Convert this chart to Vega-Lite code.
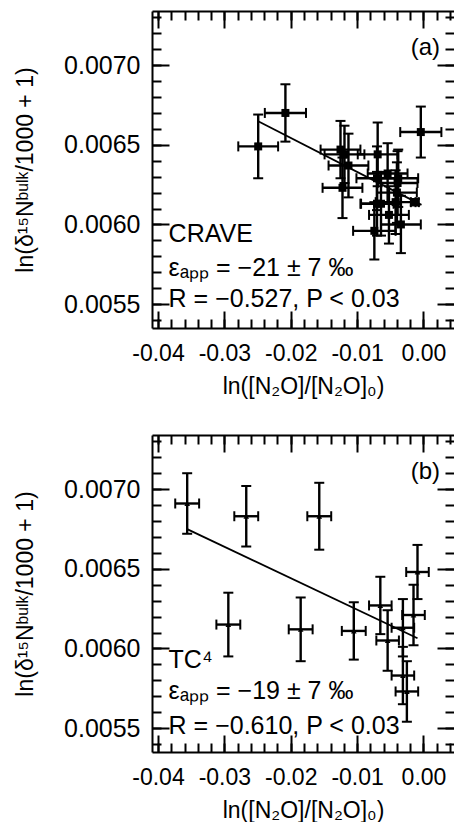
{
  "$schema": "https://vega.github.io/schema/vega-lite/v6.json",
  "padding": {"left": 14, "top": 10, "right": 0, "bottom": 0},
  "background": "white",
  "spacing": 36,
  "config": {
    "font": "Liberation Sans",
    "view": {"stroke": null},
    "axis": {"grid": false, "domainColor": "black", "domainWidth": 2, "tickColor": "black", "tickWidth": 2, "labelColor": "black", "titleColor": "black", "labelFontSize": 23, "titleFontSize": 23, "titleFontWeight": "normal", "labelOverlap": false, "labelFlush": false}
  },
  "datasets": {
    "a": [
      {"x": -0.0249, "y": 0.00649, "xlo": -0.0279, "xhi": -0.0219, "ylo": 0.00629, "yhi": 0.00669},
      {"x": -0.0208, "y": 0.00670, "xlo": -0.0239, "xhi": -0.0177, "ylo": 0.00652, "yhi": 0.00688},
      {"x": -0.0125, "y": 0.00647, "xlo": -0.0155, "xhi": -0.0095, "ylo": 0.00629, "yhi": 0.00665},
      {"x": -0.0119, "y": 0.00644, "xlo": -0.0149, "xhi": -0.0089, "ylo": 0.00626, "yhi": 0.00662},
      {"x": -0.0113, "y": 0.00637, "xlo": -0.0143, "xhi": -0.0083, "ylo": 0.00617, "yhi": 0.00657},
      {"x": -0.0122, "y": 0.00623, "xlo": -0.0152, "xhi": -0.0092, "ylo": 0.00604, "yhi": 0.00642},
      {"x": -0.0069, "y": 0.00644, "xlo": -0.0099, "xhi": -0.0039, "ylo": 0.00624, "yhi": 0.00664},
      {"x": -0.0070, "y": 0.00629, "xlo": -0.0101, "xhi": -0.0039, "ylo": 0.00609, "yhi": 0.00649},
      {"x": -0.0054, "y": 0.00632, "xlo": -0.0084, "xhi": -0.0024, "ylo": 0.00613, "yhi": 0.00651},
      {"x": -0.0038, "y": 0.00629, "xlo": -0.0068, "xhi": -0.0008, "ylo": 0.00611, "yhi": 0.00647},
      {"x": -0.0039, "y": 0.00626, "xlo": -0.0069, "xhi": -0.0009, "ylo": 0.00606, "yhi": 0.00646},
      {"x": -0.0070, "y": 0.00613, "xlo": -0.0095, "xhi": -0.0045, "ylo": 0.00593, "yhi": 0.00633},
      {"x": -0.0064, "y": 0.00613, "xlo": -0.0094, "xhi": -0.0034, "ylo": 0.00593, "yhi": 0.00633},
      {"x": -0.0042, "y": 0.00614, "xlo": -0.0072, "xhi": -0.0012, "ylo": 0.00594, "yhi": 0.00634},
      {"x": -0.0052, "y": 0.00606, "xlo": -0.0082, "xhi": -0.0022, "ylo": 0.00588, "yhi": 0.00624},
      {"x": -0.0034, "y": 0.00600, "xlo": -0.0064, "xhi": -0.0004, "ylo": 0.00582, "yhi": 0.00618},
      {"x": -0.0074, "y": 0.00596, "xlo": -0.0106, "xhi": -0.0042, "ylo": 0.00578, "yhi": 0.00614},
      {"x": -0.0004, "y": 0.00658, "xlo": -0.0035, "xhi": 0.0027, "ylo": 0.00642, "yhi": 0.00674},
      {"x": -0.0040, "y": 0.00620, "xlo": -0.0070, "xhi": -0.0010, "ylo": 0.00601, "yhi": 0.00639},
      {"x": -0.0013, "y": 0.00614, "xlo": -0.0019, "xhi": -0.0007, "ylo": 0.00612, "yhi": 0.00616}
    ],
    "b": [
      {"x": -0.0356, "y": 0.00691, "xlo": -0.0374, "xhi": -0.0338, "ylo": 0.00672, "yhi": 0.00710},
      {"x": -0.0267, "y": 0.00683, "xlo": -0.0285, "xhi": -0.0249, "ylo": 0.00664, "yhi": 0.00702},
      {"x": -0.0157, "y": 0.00683, "xlo": -0.0175, "xhi": -0.0139, "ylo": 0.00662, "yhi": 0.00704},
      {"x": -0.0294, "y": 0.00615, "xlo": -0.0312, "xhi": -0.0276, "ylo": 0.00595, "yhi": 0.00635},
      {"x": -0.0185, "y": 0.00612, "xlo": -0.0203, "xhi": -0.0167, "ylo": 0.00592, "yhi": 0.00632},
      {"x": -0.0105, "y": 0.00611, "xlo": -0.0123, "xhi": -0.0087, "ylo": 0.00593, "yhi": 0.00629},
      {"x": -0.0065, "y": 0.00627, "xlo": -0.0082, "xhi": -0.0048, "ylo": 0.00609, "yhi": 0.00645},
      {"x": -0.0054, "y": 0.00605, "xlo": -0.0071, "xhi": -0.0037, "ylo": 0.00586, "yhi": 0.00624},
      {"x": -0.0031, "y": 0.00613, "xlo": -0.0048, "xhi": -0.0014, "ylo": 0.00595, "yhi": 0.00631},
      {"x": -0.0015, "y": 0.00621, "xlo": -0.0032, "xhi": 0.0002, "ylo": 0.00602, "yhi": 0.00640},
      {"x": -0.0009, "y": 0.00648, "xlo": -0.0026, "xhi": 0.0008, "ylo": 0.00631, "yhi": 0.00665},
      {"x": -0.0031, "y": 0.00583, "xlo": -0.0048, "xhi": -0.0014, "ylo": 0.00565, "yhi": 0.00601},
      {"x": -0.0025, "y": 0.00573, "xlo": -0.0042, "xhi": -0.0008, "ylo": 0.00554, "yhi": 0.00592}
    ],
    "fitA": [{"x": -0.0249, "y": 0.006648}, {"x": -0.0003, "y": 0.006123}],
    "fitB": [{"x": -0.0356, "y": 0.006749}, {"x": -0.0009, "y": 0.006064}]
  },
  "vconcat": [
    {
      "width": 302, "height": 317,
      "data": {"name": "a"},
      "resolve": {"axis": {"x": "independent", "y": "independent"}},
      "layer": [
        {"mark": {"type": "rule", "color": "black", "strokeWidth": 2.4},
         "encoding": {
           "x": {"field": "xlo", "type": "quantitative", "scale": {"domain": [-0.0409, 0.0046], "nice": false, "zero": false},
                 "axis": {"orient": "bottom", "values": [-0.04, -0.03, -0.02, -0.01, 0], "tickSize": 0, "title": "ln([N₂O]/[N₂O]₀)", "labelPadding": 14, "titlePadding": 10,
                          "labelExpr": "replace(format(datum.value, '.2f'), '\u2212', '-')"}},
           "x2": {"field": "xhi"},
           "y": {"field": "y", "type": "quantitative", "scale": {"domain": [0.00535, 0.00734], "nice": false, "zero": false},
                 "axis": {"orient": "left", "values": [0.0055, 0.006, 0.0065, 0.007], "tickSize": 0, "format": ".4f", "title": "ln(δ¹⁵Nᵇᵘˡᵏ/1000 + 1)", "labelPadding": 12, "titlePadding": 26, "labelFontSize": 25}}
         }},
        {"mark": {"type": "rule", "color": "black", "strokeWidth": 2.4},
         "encoding": {
           "x": {"field": "x", "type": "quantitative", "scale": {"domain": [-0.0409, 0.0046], "nice": false, "zero": false},
                 "axis": {"orient": "bottom", "values": [-0.04, -0.03, -0.02, -0.01, 0], "tickSize": -17, "labels": false, "domain": false, "title": null}},
           "y": {"field": "ylo", "type": "quantitative", "scale": {"domain": [0.00535, 0.00734], "nice": false, "zero": false},
                 "axis": {"orient": "left", "values": [0.0055, 0.006, 0.0065, 0.007], "tickSize": -17, "labels": false, "domain": false, "title": null}},
           "y2": {"field": "yhi"}
         }},
        {"mark": {"type": "tick", "orient": "vertical", "color": "black", "size": 10, "thickness": 2, "opacity": 1},
         "encoding": {
           "x": {"field": "xlo", "type": "quantitative", "scale": {"domain": [-0.0409, 0.0046], "nice": false, "zero": false},
                 "axis": {"orient": "bottom", "values": [-0.04,-0.038,-0.036,-0.034,-0.032,-0.03,-0.028,-0.026,-0.024,-0.022,-0.02,-0.018,-0.016,-0.014,-0.012,-0.01,-0.008,-0.006,-0.004,-0.002,0,0.002,0.004], "tickSize": -9, "labels": false, "domain": false, "title": null}},
           "y": {"field": "y", "type": "quantitative", "scale": {"domain": [0.00535, 0.00734], "nice": false, "zero": false},
                 "axis": {"orient": "left", "values": [0.0054,0.0055,0.0056,0.0057,0.0058,0.0059,0.006,0.0061,0.0062,0.0063,0.0064,0.0065,0.0066,0.0067,0.0068,0.0069,0.007,0.0071,0.0072,0.0073], "tickSize": -9, "labels": false, "domain": false, "title": null}}
         }},
        {"mark": {"type": "tick", "orient": "vertical", "color": "black", "size": 10, "thickness": 2, "opacity": 1},
         "encoding": {
           "x": {"field": "xhi", "type": "quantitative", "scale": {"domain": [-0.0409, 0.0046], "nice": false, "zero": false},
                 "axis": {"orient": "top", "values": [-0.04, -0.03, -0.02, -0.01, 0], "tickSize": -17, "labels": false, "domain": true, "title": null}},
           "y": {"field": "y", "type": "quantitative", "scale": {"domain": [0.00535, 0.00734], "nice": false, "zero": false},
                 "axis": {"orient": "right", "values": [0.0055, 0.006, 0.0065, 0.007], "tickSize": -17, "labels": false, "domain": false, "title": null}}
         }},
        {"mark": {"type": "tick", "orient": "horizontal", "color": "black", "size": 10, "thickness": 2, "opacity": 1},
         "encoding": {
           "x": {"field": "x", "type": "quantitative", "scale": {"domain": [-0.0409, 0.0046], "nice": false, "zero": false},
                 "axis": {"orient": "top", "values": [-0.04,-0.038,-0.036,-0.034,-0.032,-0.03,-0.028,-0.026,-0.024,-0.022,-0.02,-0.018,-0.016,-0.014,-0.012,-0.01,-0.008,-0.006,-0.004,-0.002,0,0.002,0.004], "tickSize": -9, "labels": false, "domain": false, "title": null}},
           "y": {"field": "ylo", "type": "quantitative", "scale": {"domain": [0.00535, 0.00734], "nice": false, "zero": false},
                 "axis": {"orient": "right", "values": [0.0054,0.0055,0.0056,0.0057,0.0058,0.0059,0.006,0.0061,0.0062,0.0063,0.0064,0.0065,0.0066,0.0067,0.0068,0.0069,0.007,0.0071,0.0072,0.0073], "tickSize": -9, "labels": false, "domain": false, "title": null}}
         }},
        {"mark": {"type": "tick", "orient": "horizontal", "color": "black", "size": 10, "thickness": 2, "opacity": 1},
         "encoding": {"x": {"field": "x", "type": "quantitative", "axis": null}, "y": {"field": "yhi", "type": "quantitative", "axis": null}}},
        {"mark": {"type": "point", "shape": "square", "filled": true, "color": "black", "size": 64, "opacity": 1},
         "encoding": {"x": {"field": "x", "type": "quantitative", "axis": null}, "y": {"field": "y", "type": "quantitative", "axis": null}}},
        {"data": {"name": "fitA"}, "mark": {"type": "line", "color": "black", "strokeWidth": 1.8},
         "encoding": {"x": {"field": "x", "type": "quantitative", "axis": null}, "y": {"field": "y", "type": "quantitative", "axis": null}}},
        {"data": {"values": [{}]}, "mark": {"type": "text", "align": "left", "baseline": "alphabetic", "fontSize": 25, "color": "black"},
         "encoding": {"x": {"datum": -0.0384, "type": "quantitative", "axis": null}, "y": {"datum": 0.005887, "type": "quantitative", "axis": null}, "text": {"value": "CRAVE"}}},
        {"data": {"values": [{}]}, "mark": {"type": "text", "align": "left", "baseline": "alphabetic", "fontSize": 25, "color": "black"},
         "encoding": {"x": {"datum": -0.0384, "type": "quantitative", "axis": null}, "y": {"datum": 0.005677, "type": "quantitative", "axis": null}, "text": {"value": "εₐₚₚ = −21 ± 7 ‰"}}},
        {"data": {"values": [{}]}, "mark": {"type": "text", "align": "left", "baseline": "alphabetic", "fontSize": 25, "color": "black"},
         "encoding": {"x": {"datum": -0.0384, "type": "quantitative", "axis": null}, "y": {"datum": 0.005482, "type": "quantitative", "axis": null}, "text": {"value": "R = −0.527, P < 0.03"}}},
        {"data": {"values": [{}]}, "mark": {"type": "text", "align": "right", "baseline": "alphabetic", "fontSize": 24, "color": "black"},
         "encoding": {"x": {"datum": 0.0025, "type": "quantitative", "axis": null}, "y": {"datum": 0.007066, "type": "quantitative", "axis": null}, "text": {"value": "(a)"}}}
      ]
    },
    {
      "width": 302, "height": 317,
      "data": {"name": "b"},
      "resolve": {"axis": {"x": "independent", "y": "independent"}},
      "layer": [
        {"mark": {"type": "rule", "color": "black", "strokeWidth": 2.4},
         "encoding": {
           "x": {"field": "xlo", "type": "quantitative", "scale": {"domain": [-0.0409, 0.0046], "nice": false, "zero": false},
                 "axis": {"orient": "bottom", "values": [-0.04, -0.03, -0.02, -0.01, 0], "tickSize": 0, "title": "ln([N₂O]/[N₂O]₀)", "labelPadding": 14, "titlePadding": 10,
                          "labelExpr": "replace(format(datum.value, '.2f'), '\u2212', '-')"}},
           "x2": {"field": "xhi"},
           "y": {"field": "y", "type": "quantitative", "scale": {"domain": [0.00535, 0.00734], "nice": false, "zero": false},
                 "axis": {"orient": "left", "values": [0.0055, 0.006, 0.0065, 0.007], "tickSize": 0, "format": ".4f", "title": "ln(δ¹⁵Nᵇᵘˡᵏ/1000 + 1)", "labelPadding": 12, "titlePadding": 26, "labelFontSize": 25}}
         }},
        {"mark": {"type": "rule", "color": "black", "strokeWidth": 2.4},
         "encoding": {
           "x": {"field": "x", "type": "quantitative", "scale": {"domain": [-0.0409, 0.0046], "nice": false, "zero": false},
                 "axis": {"orient": "bottom", "values": [-0.04, -0.03, -0.02, -0.01, 0], "tickSize": -17, "labels": false, "domain": false, "title": null}},
           "y": {"field": "ylo", "type": "quantitative", "scale": {"domain": [0.00535, 0.00734], "nice": false, "zero": false},
                 "axis": {"orient": "left", "values": [0.0055, 0.006, 0.0065, 0.007], "tickSize": -17, "labels": false, "domain": false, "title": null}},
           "y2": {"field": "yhi"}
         }},
        {"mark": {"type": "tick", "orient": "vertical", "color": "black", "size": 10, "thickness": 2, "opacity": 1},
         "encoding": {
           "x": {"field": "xlo", "type": "quantitative", "scale": {"domain": [-0.0409, 0.0046], "nice": false, "zero": false},
                 "axis": {"orient": "bottom", "values": [-0.04,-0.038,-0.036,-0.034,-0.032,-0.03,-0.028,-0.026,-0.024,-0.022,-0.02,-0.018,-0.016,-0.014,-0.012,-0.01,-0.008,-0.006,-0.004,-0.002,0,0.002,0.004], "tickSize": -9, "labels": false, "domain": false, "title": null}},
           "y": {"field": "y", "type": "quantitative", "scale": {"domain": [0.00535, 0.00734], "nice": false, "zero": false},
                 "axis": {"orient": "left", "values": [0.0054,0.0055,0.0056,0.0057,0.0058,0.0059,0.006,0.0061,0.0062,0.0063,0.0064,0.0065,0.0066,0.0067,0.0068,0.0069,0.007,0.0071,0.0072,0.0073], "tickSize": -9, "labels": false, "domain": false, "title": null}}
         }},
        {"mark": {"type": "tick", "orient": "vertical", "color": "black", "size": 10, "thickness": 2, "opacity": 1},
         "encoding": {
           "x": {"field": "xhi", "type": "quantitative", "scale": {"domain": [-0.0409, 0.0046], "nice": false, "zero": false},
                 "axis": {"orient": "top", "values": [-0.04, -0.03, -0.02, -0.01, 0], "tickSize": -17, "labels": false, "domain": true, "title": null}},
           "y": {"field": "y", "type": "quantitative", "scale": {"domain": [0.00535, 0.00734], "nice": false, "zero": false},
                 "axis": {"orient": "right", "values": [0.0055, 0.006, 0.0065, 0.007], "tickSize": -17, "labels": false, "domain": false, "title": null}}
         }},
        {"mark": {"type": "tick", "orient": "horizontal", "color": "black", "size": 10, "thickness": 2, "opacity": 1},
         "encoding": {
           "x": {"field": "x", "type": "quantitative", "scale": {"domain": [-0.0409, 0.0046], "nice": false, "zero": false},
                 "axis": {"orient": "top", "values": [-0.04,-0.038,-0.036,-0.034,-0.032,-0.03,-0.028,-0.026,-0.024,-0.022,-0.02,-0.018,-0.016,-0.014,-0.012,-0.01,-0.008,-0.006,-0.004,-0.002,0,0.002,0.004], "tickSize": -9, "labels": false, "domain": false, "title": null}},
           "y": {"field": "ylo", "type": "quantitative", "scale": {"domain": [0.00535, 0.00734], "nice": false, "zero": false},
                 "axis": {"orient": "right", "values": [0.0054,0.0055,0.0056,0.0057,0.0058,0.0059,0.006,0.0061,0.0062,0.0063,0.0064,0.0065,0.0066,0.0067,0.0068,0.0069,0.007,0.0071,0.0072,0.0073], "tickSize": -9, "labels": false, "domain": false, "title": null}}
         }},
        {"mark": {"type": "tick", "orient": "horizontal", "color": "black", "size": 10, "thickness": 2, "opacity": 1},
         "encoding": {"x": {"field": "x", "type": "quantitative", "axis": null}, "y": {"field": "yhi", "type": "quantitative", "axis": null}}},
        {"mark": {"type": "point", "shape": "triangle-up", "filled": true, "color": "black", "size": 32, "opacity": 1},
         "encoding": {"x": {"field": "x", "type": "quantitative", "axis": null}, "y": {"field": "y", "type": "quantitative", "axis": null}}},
        {"data": {"name": "fitB"}, "mark": {"type": "line", "color": "black", "strokeWidth": 1.8},
         "encoding": {"x": {"field": "x", "type": "quantitative", "axis": null}, "y": {"field": "y", "type": "quantitative", "axis": null}}},
        {"data": {"values": [{}]}, "mark": {"type": "text", "align": "left", "baseline": "alphabetic", "fontSize": 25, "color": "black"},
         "encoding": {"x": {"datum": -0.0384, "type": "quantitative", "axis": null}, "y": {"datum": 0.00588, "type": "quantitative", "axis": null}, "text": {"value": "TC⁴"}}},
        {"data": {"values": [{}]}, "mark": {"type": "text", "align": "left", "baseline": "alphabetic", "fontSize": 25, "color": "black"},
         "encoding": {"x": {"datum": -0.0384, "type": "quantitative", "axis": null}, "y": {"datum": 0.00568, "type": "quantitative", "axis": null}, "text": {"value": "εₐₚₚ = −19 ± 7 ‰"}}},
        {"data": {"values": [{}]}, "mark": {"type": "text", "align": "left", "baseline": "alphabetic", "fontSize": 25, "color": "black"},
         "encoding": {"x": {"datum": -0.0384, "type": "quantitative", "axis": null}, "y": {"datum": 0.005465, "type": "quantitative", "axis": null}, "text": {"value": "R = −0.610, P < 0.03"}}},
        {"data": {"values": [{}]}, "mark": {"type": "text", "align": "right", "baseline": "alphabetic", "fontSize": 24, "color": "black"},
         "encoding": {"x": {"datum": 0.0025, "type": "quantitative", "axis": null}, "y": {"datum": 0.007066, "type": "quantitative", "axis": null}, "text": {"value": "(b)"}}}
      ]
    }
  ]
}
